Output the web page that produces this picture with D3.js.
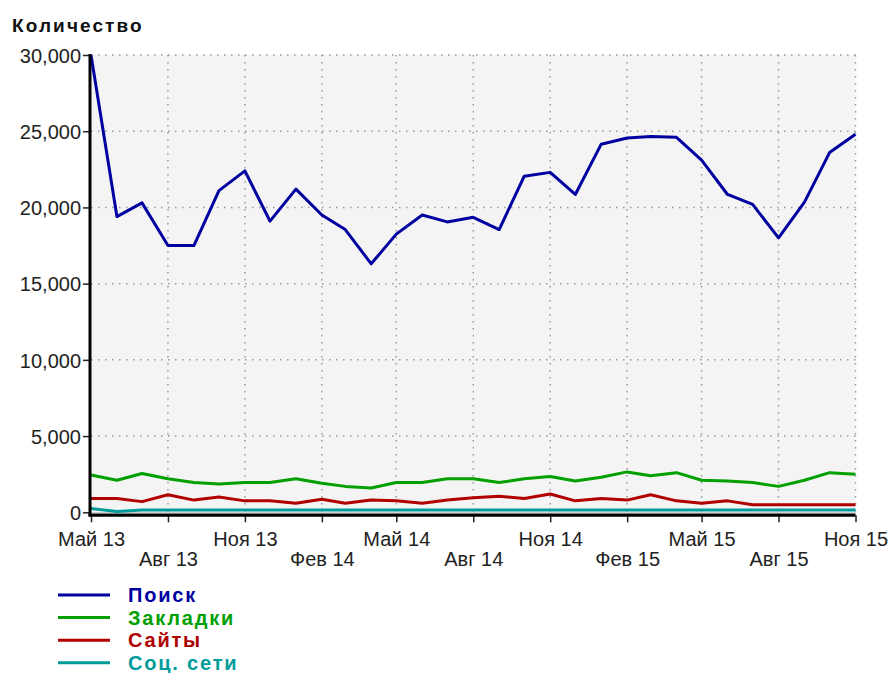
<!DOCTYPE html>
<html>
<head>
<meta charset="utf-8">
<script src="https://cdn.jsdelivr.net/npm/d3@7"></script>
<style>
  body { margin: 0; background: #fff; }
  text { font-family: "Liberation Sans", Arial, sans-serif; }
</style>
</head>
<body>
<svg id="chart" width="890" height="673"></svg>
<script>
// monthly points, May 2013 .. Nov 2015
const months = d3.range(31).map((i) => new Date(2013, 4 + i, 1));

const search = [30000, 19400, 20300, 17500, 17500, 21100, 22400, 19100, 21200, 19500,
  18550, 16300, 18250, 19500, 19050, 19350, 18550, 22050, 22300, 20850,
  24150, 24550, 24650, 24600, 23100, 20850, 20200, 18000, 20350, 23600, 24800];
const bookmarks = [2450, 2100, 2550, 2200, 1950, 1850, 1950, 1950, 2200, 1900,
  1700, 1600, 1950, 1950, 2200, 2200, 1950, 2200, 2350, 2050,
  2300, 2650, 2400, 2600, 2100, 2050, 1950, 1700, 2100, 2600, 2500];
const sites = [900, 900, 700, 1150, 800, 1000, 750, 750, 600, 850,
  600, 800, 750, 600, 800, 950, 1050, 900, 1200, 750,
  900, 800, 1150, 750, 600, 750, 500, 500, 500, 500, 500];
const social = [250, 50, 150, 150, 150, 150, 150, 150, 150, 150,
  150, 150, 150, 150, 150, 150, 150, 150, 150, 150,
  150, 150, 150, 150, 150, 150, 150, 150, 150, 150, 150];

const seriesNames = ["Поиск", "Закладки", "Сайты", "Соц. сети"];
const seriesColors = ["#0000a0", "#00a000", "#b00000", "#009c9c"];
const seriesValues = [search, bookmarks, sites, social];

const yTicks = [0, 5000, 10000, 15000, 20000, 25000, 30000];
const monthNames = ["Янв", "Фев", "Мар", "Апр", "Май", "Июн", "Июл", "Авг", "Сен", "Окт", "Ноя", "Дек"];

const svg = d3.select("#chart");
const plotLeft = 91, plotRight = 855.5, plotTop = 55, plotBottom = 512.3;

const x = d3.scaleTime().domain([months[0], months[30]]).range([plotLeft, plotRight]);
const y = d3.scaleLinear().domain([0, 30000]).range([plotBottom, plotTop]);

// plot background
svg.append("rect")
  .attr("x", plotLeft).attr("y", plotTop)
  .attr("width", plotRight - plotLeft).attr("height", plotBottom - plotTop + 2)
  .attr("fill", "#f4f4f4");

const xTicks = months.filter((d, i) => i % 3 === 0);

// grid
svg.append("g")
  .selectAll("line")
  .data(xTicks.slice(1))
  .join("line")
  .attr("x1", (d) => x(d)).attr("x2", (d) => x(d))
  .attr("y1", plotTop).attr("y2", plotBottom)
  .attr("stroke", "#999")
  .attr("stroke-width", 1.5)
  .attr("stroke-dasharray", "1.5,5.5");

svg.append("g")
  .selectAll("line")
  .data(yTicks.slice(1))
  .join("line")
  .attr("x1", plotLeft).attr("x2", plotRight)
  .attr("y1", (d) => y(d)).attr("y2", (d) => y(d))
  .attr("stroke", "#999")
  .attr("stroke-width", 1.5)
  .attr("stroke-dasharray", "1.5,5.5");

svg.append("line")
  .attr("x1", plotLeft).attr("x2", plotRight)
  .attr("y1", plotBottom + 1).attr("y2", plotBottom + 1)
  .attr("stroke", "#aaa").attr("stroke-width", 1.5);

// series
const line = d3.line()
  .x((d, i) => x(months[i]))
  .y((d) => y(d));

seriesValues.slice().reverse().forEach((vals, k) => {
  const idx = seriesValues.length - 1 - k;
  svg.append("path")
    .datum(vals)
    .attr("fill", "none")
    .attr("stroke", seriesColors[idx])
    .attr("stroke-width", 3)
    .attr("stroke-linejoin", "round")
    .attr("d", line);
});

// y axis
const yAxis = svg.append("g")
  .attr("transform", `translate(${plotLeft - 1},0)`)
  .call(d3.axisLeft(y).tickValues(yTicks).tickSize(7).tickPadding(2)
    .tickFormat(d3.format(",")));
yAxis.select(".domain").remove();
yAxis.selectAll(".tick line").attr("stroke", "#222").attr("stroke-width", 1.5);
yAxis.selectAll(".tick text")
  .attr("fill", "#222")
  .attr("dy", "0.36em")
  .style("font-size", "20px");

svg.append("line")
  .attr("x1", plotLeft - 1).attr("x2", plotLeft - 1)
  .attr("y1", plotTop - 1).attr("y2", plotBottom + 4)
  .attr("stroke", "#000").attr("stroke-width", 3);

// x axis
const xAxis = svg.append("g")
  .attr("transform", `translate(0,${plotBottom + 3})`)
  .call(d3.axisBottom(x).tickValues(xTicks).tickSize(7)
    .tickFormat((d) => `${monthNames[d.getMonth()]} ${String(d.getFullYear()).slice(2)}`));
xAxis.select(".domain").remove();
xAxis.selectAll(".tick line").attr("stroke", "#222").attr("stroke-width", 1.5);
xAxis.selectAll(".tick text")
  .attr("fill", "#222")
  .style("font-size", "20px")
  .attr("dy", 0)
  .attr("y", (d, i) => (i % 2 === 0 ? 31 : 51));

svg.append("line")
  .attr("x1", plotLeft - 2.5).attr("x2", plotRight)
  .attr("y1", plotBottom + 3).attr("y2", plotBottom + 3)
  .attr("stroke", "#000").attr("stroke-width", 3);

// title
svg.append("text")
  .attr("x", 12).attr("y", 32)
  .attr("fill", "#111")
  .style("font-size", "19px")
  .style("font-weight", "bold")
  .style("letter-spacing", "2.1px")
  .text("Количество");

// legend
const legend = svg.append("g")
  .selectAll("g")
  .data(seriesNames)
  .join("g")
  .attr("transform", (d, i) => `translate(58,${595 + i * 22.6})`);

legend.append("line")
  .attr("x1", 0).attr("x2", 52)
  .attr("stroke", (d, i) => seriesColors[i])
  .attr("stroke-width", 3);

legend.append("text")
  .attr("x", 70).attr("dy", "0.36em")
  .attr("fill", (d, i) => seriesColors[i])
  .style("font-size", "20px")
  .style("font-weight", "bold")
  .style("letter-spacing", "1.8px")
  .text((d) => d);
</script>
</body>
</html>
